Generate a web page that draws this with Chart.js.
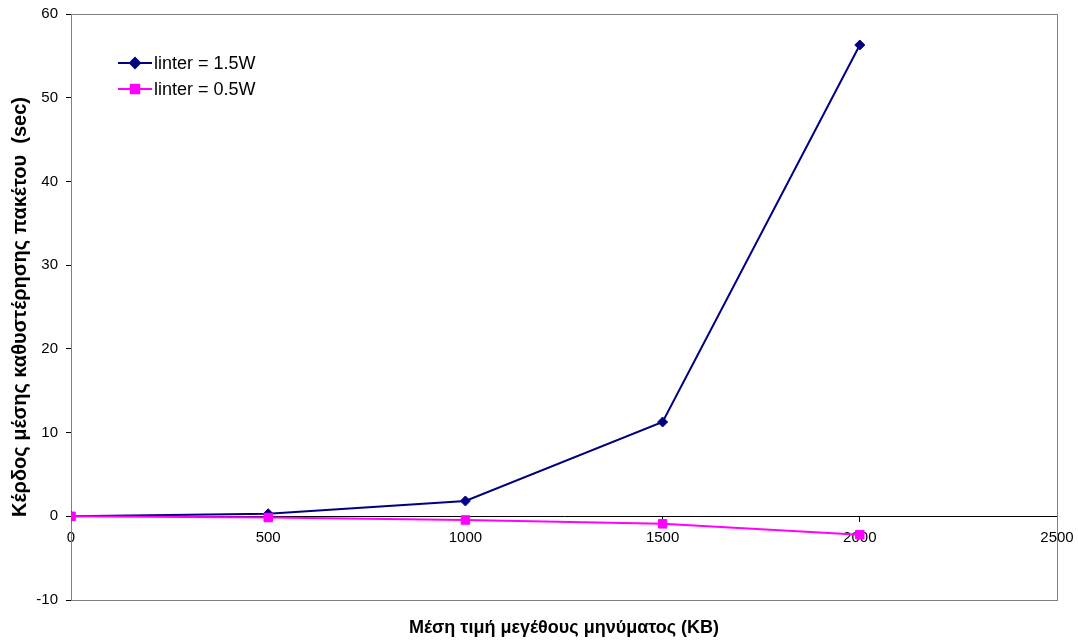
<!DOCTYPE html>
<html>
<head>
<meta charset="utf-8">
<script src="https://cdn.jsdelivr.net/npm/chart.js@4/dist/chart.umd.min.js"></script>
<style>
  html, body { margin: 0; padding: 0; background: #fff; }
  #wrap { width: 1078px; height: 641px; }
</style>
</head>
<body>
<div id="wrap"><canvas id="c" width="1078" height="641"></canvas></div>
<script>
// Message size (KB) and packet-delay gain (sec) for two inter-arrival settings
const messageSizes = [0, 500, 1000, 1500, 2000];
const gain15W = [0, 0.3, 1.83, 11.26, 56.3];
const gain05W = [0, -0.15, -0.44, -0.9, -2.2];
const seriesNames = ['linter = 1.5W', 'linter = 0.5W'];
const xTitle = 'Μέση τιμή μεγέθους μηνύματος (KB)';
const yTitle = 'Κέρδος μέσης καθυστέρησης πακέτου  (sec)';

const FONT = '"Liberation Sans", Arial, sans-serif';
const NAVY = '#000080';
const MAGENTA = '#FF00FF';

const toPoints = (ys) => messageSizes.map((x, i) => ({ x, y: ys[i] }));

// Gray frame around the plot area plus the x-axis title and in-plot legend
const framePlugin = {
  id: 'frame',
  beforeDatasetsDraw(chart) {
    const { ctx, chartArea: a } = chart;
    ctx.save();
    ctx.strokeStyle = '#808080';
    ctx.lineWidth = 1;
    ctx.strokeRect(a.left + 0.5, a.top + 0.5, a.right - a.left, a.bottom - a.top);
    ctx.restore();
  },
  afterDraw(chart) {
    const { ctx, chartArea: a } = chart;
    ctx.save();
    ctx.fillStyle = '#000';
    ctx.font = 'bold 18px ' + FONT;
    ctx.textAlign = 'center';
    ctx.textBaseline = 'middle';
    ctx.fillText(xTitle, (a.left + a.right) / 2, 628);

    // legend
    const items = [
      { label: seriesNames[0], color: NAVY, style: 'rectRot', r: 5 },
      { label: seriesNames[1], color: MAGENTA, style: 'rect', r: 6 }
    ];
    items.forEach((it, i) => {
      const y = 63 + i * 26;
      ctx.strokeStyle = it.color;
      ctx.lineWidth = 2;
      ctx.beginPath();
      ctx.moveTo(118, y);
      ctx.lineTo(152, y);
      ctx.stroke();
      ctx.fillStyle = it.color;
      Chart.helpers.drawPoint(ctx, { pointStyle: it.style, radius: it.r, borderWidth: 1 }, 135, y);
      ctx.fill();
      ctx.fillStyle = '#000';
      ctx.font = '18px ' + FONT;
      ctx.textAlign = 'left';
      ctx.textBaseline = 'middle';
      ctx.fillText(it.label, 154, y + 1);
    });
    ctx.restore();
  }
};

new Chart(document.getElementById('c'), {
  type: 'line',
  data: {
    datasets: [
      {
        label: seriesNames[0],
        data: toPoints(gain15W),
        borderColor: NAVY,
        backgroundColor: NAVY,
        borderWidth: 2,
        pointStyle: 'rectRot',
        pointRadius: 5,
        pointBorderWidth: 1,
        order: 1
      },
      {
        label: seriesNames[1],
        data: toPoints(gain05W),
        borderColor: MAGENTA,
        backgroundColor: MAGENTA,
        borderWidth: 2,
        pointStyle: 'rect',
        pointRadius: 6,
        pointBorderWidth: 1,
        order: 0
      }
    ]
  },
  options: {
    responsive: false,
    animation: false,
    layout: { padding: { left: 0, right: 21, top: 14, bottom: 41 } },
    plugins: { legend: { display: false }, tooltip: { enabled: false } },
    elements: { line: { tension: 0 } },
    scales: {
      x: {
        type: 'linear',
        position: { y: 0 },
        min: 0,
        max: 2500,
        afterFit(scale) { scale.paddingLeft = 0; scale.paddingRight = 0; },
        ticks: {
          stepSize: 500, color: '#000', padding: 8, maxRotation: 0,
          format: { useGrouping: false },
          font: { family: FONT, size: 15 }
        },
        grid: { display: true, drawOnChartArea: false, drawTicks: true, tickLength: 5, color: '#000', lineWidth: 1 },
        border: { display: true, color: '#000', width: 1 }
      },
      y: {
        type: 'linear',
        min: -10,
        max: 60,
        afterFit(scale) { scale.width = 71; scale.paddingTop = 0; scale.paddingBottom = 0; },
        ticks: { stepSize: 10, color: '#000', padding: 8, font: { family: FONT, size: 15 } },
        grid: { display: true, drawOnChartArea: false, drawTicks: true, tickLength: 5, color: '#000', lineWidth: 1 },
        border: { display: true, color: '#000', width: 1 },
        title: {
          display: true,
          text: yTitle,
          color: '#000',
          font: { family: FONT, size: 20, weight: 'bold' },
          padding: { top: 8, bottom: 0 }
        }
      }
    }
  },
  plugins: [framePlugin]
});
</script>
</body>
</html>
